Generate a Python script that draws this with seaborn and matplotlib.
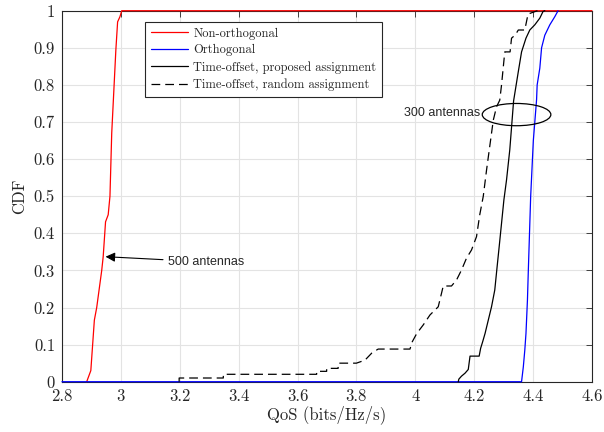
import numpy as np
import pandas as pd
import seaborn as sns
import matplotlib.pyplot as plt
from matplotlib.patches import Ellipse

# curve knots (QoS in bits/Hz/s, CDF)
red_x = [2.884, 2.898, 2.910, 2.918, 2.935, 2.940, 2.948, 2.957, 2.963, 2.969, 2.983, 2.989, 2.997, 3.003, 4.600]
red_y = [0.0, 0.03, 0.166, 0.20, 0.30, 0.337, 0.431, 0.45, 0.50, 0.67, 0.894, 0.97, 0.984, 1.0, 1.0]

blue_x = [2.800, 4.361, 4.367, 4.372, 4.376, 4.381, 4.384, 4.392, 4.401, 4.412, 4.414, 4.423, 4.429, 4.440, 4.457, 4.474, 4.485]
blue_y = [0.0, 0.0, 0.04, 0.085, 0.13, 0.22, 0.30, 0.50, 0.65, 0.76, 0.80, 0.845, 0.90, 0.934, 0.962, 0.984, 1.0]

prop_x = [4.146, 4.148, 4.157, 4.169, 4.180, 4.186, 4.217, 4.222, 4.229, 4.237, 4.248, 4.259, 4.270, 4.278,
          4.285, 4.293, 4.301, 4.310, 4.321, 4.334, 4.350, 4.361, 4.376, 4.389, 4.406, 4.423, 4.434, 4.440]
prop_y = [0.0, 0.007, 0.015, 0.023, 0.033, 0.069, 0.069, 0.09, 0.108, 0.13, 0.166, 0.202, 0.247, 0.31,
          0.364, 0.427, 0.49, 0.544, 0.625, 0.757, 0.836, 0.889, 0.926, 0.948, 0.962, 0.98, 0.998, 1.0]

rand_x = [3.198, 3.198, 3.348, 3.348, 3.665, 3.665, 3.699, 3.699, 3.738, 3.738, 3.800, 3.829, 3.852, 3.874,
          3.982, 3.990, 4.005, 4.027, 4.050, 4.078, 4.089, 4.095, 4.123, 4.140, 4.157, 4.174, 4.191, 4.208,
          4.219, 4.231, 4.242, 4.265, 4.276, 4.287, 4.293, 4.304, 4.322, 4.327, 4.340, 4.350, 4.372, 4.383, 4.415]
rand_y = [0.0, 0.01, 0.01, 0.02, 0.02, 0.028, 0.028, 0.036, 0.036, 0.05, 0.05, 0.058, 0.077, 0.088,
          0.088, 0.108, 0.13, 0.153, 0.18, 0.202, 0.238, 0.258, 0.258, 0.274, 0.301, 0.333, 0.355, 0.391,
          0.45, 0.50, 0.57, 0.705, 0.741, 0.759, 0.80, 0.889, 0.889, 0.926, 0.935, 0.948, 0.948, 0.991, 1.0]

names = ["Non-orthogonal", "Orthogonal", "Time-offset, proposed assignment", "Time-offset, random assignment"]
colors = ["#ff0000", "#0000ff", "#000000", "#000000"]

xticks = [2.8, 3.0, 3.2, 3.4, 3.6, 3.8, 4.0, 4.2, 4.4, 4.6]
xticklabels = ["2.8", "3", "3.2", "3.4", "3.6", "3.8", "4", "4.2", "4.4", "4.6"]
yticks = [0, 0.1, 0.2, 0.3, 0.4, 0.5, 0.6, 0.7, 0.8, 0.9, 1.0]
yticklabels = ["0", "0.1", "0.2", "0.3", "0.4", "0.5", "0.6", "0.7", "0.8", "0.9", "1"]

frames = []
for nm, xs, ys in zip(names, [red_x, blue_x, prop_x, rand_x], [red_y, blue_y, prop_y, rand_y]):
    frames.append(pd.DataFrame({"QoS": xs, "CDF": ys, "scheme": nm}))
df = pd.concat(frames, ignore_index=True)

sns.set_style("white")
plt.rcParams["font.family"] = ["cmr10", "DejaVu Serif"]
plt.rcParams["axes.unicode_minus"] = False

fig, ax = plt.subplots(figsize=(6.04, 4.32), dpi=100)
fig.subplots_adjust(left=0.1026, right=0.980, bottom=0.1164, top=0.9752)

sns.lineplot(data=df, x="QoS", y="CDF", hue="scheme", style="scheme",
             hue_order=names, style_order=names,
             palette=dict(zip(names, colors)),
             dashes={names[0]: "", names[1]: "", names[2]: "", names[3]: (7, 4)},
             sort=False, estimator=None, lw=0.9, legend=False, ax=ax)
for ln in ax.get_lines():
    ln.set_clip_on(False)
    ln.set_zorder(3)

ax.set_xlim(2.8, 4.6)
ax.set_ylim(0, 1)
ax.set_xticks(xticks)
ax.set_xticklabels(xticklabels)
ax.set_yticks(yticks)
ax.set_yticklabels(yticklabels)
ax.grid(True, color="#e3e3e3", lw=0.8)
ax.set_axisbelow(True)
ax.tick_params(direction="in", top=True, right=True, length=4, width=0.6,
               labelsize=12, pad=5, colors="#262626")
for sp in ax.spines.values():
    sp.set_color("#262626")
    sp.set_linewidth(0.8)
    sp.set_zorder(2.5)

ax.set_xlabel("QoS (bits/Hz/s)", fontsize=12, color="#262626", labelpad=1)
ax.set_ylabel("CDF", fontsize=12, color="#262626", labelpad=5)

leg = ax.legend(handles=ax.get_lines()[:4], labels=names, loc="upper left",
                bbox_to_anchor=(0.157, 0.970), borderaxespad=0, fontsize=9,
                frameon=True, fancybox=False, framealpha=1, edgecolor="#262626",
                handlelength=3.0, handletextpad=0.4, labelspacing=0.38, borderpad=0.45)
leg.get_frame().set_linewidth(0.8)
leg.set_zorder(5)

# annotations
ax.annotate("500 antennas", xy=(2.948, 0.337), xytext=(3.159, 0.323),
            fontsize=9, family="Liberation Sans", va="center", ha="left",
            arrowprops=dict(arrowstyle="-|>", color="k", lw=0.8, mutation_scale=14,
                            shrinkA=1, shrinkB=0))
ax.add_patch(Ellipse((4.344, 0.720), 0.233, 0.060, fill=False, ec="k", lw=0.9, zorder=4))
ax.text(4.221, 0.723, "300 antennas", fontsize=9, family="Liberation Sans",
        va="center", ha="right")

fig.savefig("out.png", dpi=100)
